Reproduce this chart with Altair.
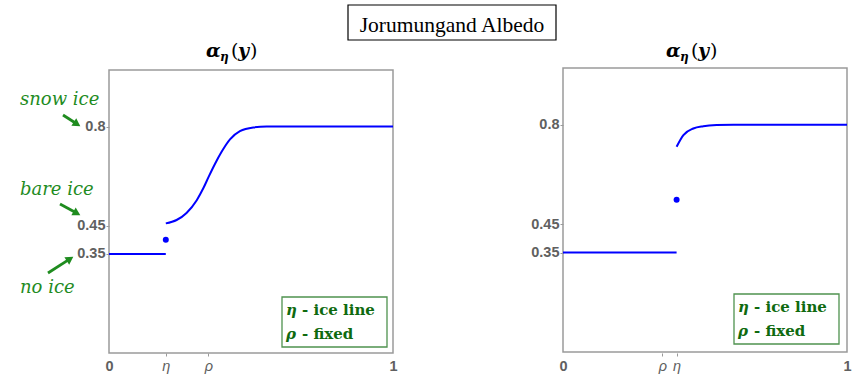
import math
import altair as alt
import pandas as pd

# ---------------- data ----------------
# Left panel: eta = 0.2, rho = 0.35
left_flat_x = [0.0, 0.2]
left_flat_y = [0.35, 0.35]
left_curve_x = [0.200, 0.238, 0.273, 0.309, 0.332, 0.352, 0.373, 0.397, 0.426, 0.461, 0.508, 0.555, 1.0]
left_curve_y = [0.458, 0.470, 0.495, 0.540, 0.582, 0.625, 0.668, 0.712, 0.755, 0.784, 0.797, 0.800, 0.800]
left_dot_x = [0.2]
left_dot_y = [0.40]
left_ticks = [0, 0.2, 0.35, 1]
left_tick_labels = ["0", "η", "ρ", "1"]

# Right panel: eta = 0.4, rho = 0.35
right_flat_x = [0.0, 0.4]
right_flat_y = [0.35, 0.35]
right_curve_x = [0.400, 0.424, 0.459, 0.494, 0.541, 0.600, 1.0]
right_curve_y = [0.723, 0.764, 0.787, 0.795, 0.799, 0.800, 0.800]
right_dot_x = [0.4]
right_dot_y = [0.536]
right_ticks = [0, 0.35, 0.4, 1]
right_tick_labels = ["0", "ρ", "η", "1"]

y_ticks = [0.35, 0.45, 0.8]
y_tick_labels = ["0.35", "0.45", "0.8"]

annotation_labels = ["snow ice", "bare ice", "no ice"]
legend_lines = [("η", "- ice line"), ("ρ", "- fixed")]
main_title = "Jorumungand Albedo"

# ---------------- styling ----------------
BLUE = "#0000ff"
GREEN = "#1f8c1f"
DKGREEN = "#0f6a0f"
BOXGREEN = "#4f924f"
GRAY = "#606060"
FRAME = "#9a9a9a"
SERIF = "Liberation Serif"
SERIF2 = "DejaVu Serif"
SANS = "Liberation Sans"

dummy = pd.DataFrame({"a": [0]})


def expr_from(values, labels):
    parts = [f"datum.value == {v} ? '{l}'" for v, l in zip(values, labels)]
    return " : ".join(parts) + " : ''"


def panel(flat_x, flat_y, curve_x, curve_y, dot_x, dot_y, ticks, labels, xrange, yrange, y_offset):
    lines = pd.DataFrame({
        "x": flat_x + curve_x,
        "y": flat_y + curve_y,
        "seg": ["flat"] * len(flat_x) + ["curve"] * len(curve_x),
    })
    dots = pd.DataFrame({"x": dot_x, "y": dot_y})
    frame_df = pd.DataFrame({"x0": [0.0], "x1": [1.0], "y0": [0.0], "y1": [1.0]})

    xs = alt.Scale(domain=[0, 1], range=xrange, nice=False, zero=False)
    ys = alt.Scale(domain=[0, 1], range=yrange, nice=False, zero=False)
    inner = "datum.value > 0 && datum.value < 1"
    x_axis = alt.Axis(
        values=ticks, labelExpr=expr_from(ticks, labels), orient="bottom", title=None,
        domain=False, grid=False, tickSize=3,
        tickColor={"condition": {"test": inner, "value": FRAME}, "value": "transparent"},
        labelPadding=3, labelFlush=False, labelOverlap=False, labelFont=SANS, labelFontSize=14.5,
        labelColor=GRAY,
        labelFontWeight={"condition": {"test": inner, "value": "normal"}, "value": "bold"},
        labelFontStyle={"condition": {"test": inner, "value": "italic"}, "value": "normal"},
    )
    y_axis = alt.Axis(
        values=y_ticks, labelExpr=expr_from(y_ticks, y_tick_labels), orient="left", offset=y_offset,
        title=None, domain=False, grid=False, tickSize=3, tickColor=FRAME, labelPadding=1,
        labelFont=SANS, labelFontSize=14.5, labelFontWeight="bold", labelColor=GRAY,
        labelOverlap=False, labelFlush=False,
    )

    frame = alt.Chart(frame_df).mark_rect(fillOpacity=0, stroke=FRAME, strokeWidth=1.5).encode(
        x=alt.X("x0:Q", scale=xs, axis=x_axis), x2="x1:Q",
        y=alt.Y("y0:Q", scale=ys, axis=y_axis), y2="y1:Q",
    )
    line = alt.Chart(lines).mark_line(color=BLUE, strokeWidth=2, interpolate="monotone").encode(
        x=alt.X("x:Q", scale=xs, axis=x_axis),
        y=alt.Y("y:Q", scale=ys, axis=y_axis),
        detail="seg:N",
    )
    dot = alt.Chart(dots).mark_circle(size=36, color=BLUE, opacity=1).encode(
        x=alt.X("x:Q", scale=xs, axis=x_axis),
        y=alt.Y("y:Q", scale=ys, axis=y_axis),
    )
    return alt.layer(frame, line, dot)


def txt(text, x, y, size, color, font=SERIF, style="normal", weight="normal", align="left"):
    return alt.Chart(dummy).mark_text(
        text=text, align=align, baseline="alphabetic", font=font, fontSize=size,
        fontStyle=style, fontWeight=weight, color=color,
    ).encode(x=alt.value(x), y=alt.value(y))


def box(x1, y1, x2, y2, stroke, width=1.2):
    return alt.Chart(dummy).mark_rect(fill="white", stroke=stroke, strokeWidth=width).encode(
        x=alt.value(x1), x2=alt.value(x2), y=alt.value(y1), y2=alt.value(y2)
    )


def arrow(x1, y1, x2, y2):
    dx, dy = x2 - x1, y2 - y1
    L = math.hypot(dx, dy)
    ux, uy = dx / L, dy / L
    ang = math.degrees(math.atan2(dy, dx)) % 360
    shaft = alt.Chart(dummy).mark_rule(color=GREEN, strokeWidth=2.8).encode(
        x=alt.value(x1), y=alt.value(y1), x2=alt.value(x2 - 5 * ux), y2=alt.value(y2 - 5 * uy)
    )
    head = alt.Chart(dummy).mark_point(
        shape="triangle-right", filled=True, size=80, angle=ang, color=GREEN, opacity=1
    ).encode(x=alt.value(x2 - 3.5 * ux), y=alt.value(y2 - 3.5 * uy))
    return [shaft, head]


left = panel(left_flat_x, left_flat_y, left_curve_x, left_curve_y, left_dot_x, left_dot_y,
             left_ticks, left_tick_labels, [0, 284], [285, 2], 0)
right = panel(right_flat_x, right_flat_y, right_curve_x, right_curve_y, right_dot_x, right_dot_y,
              right_ticks, right_tick_labels, [454, 738], [284, 0], -454)

layers = [left, right]

# main title box
layers.append(box(239, -63, 447, -28, "#000000", 1.2))
layers.append(txt(main_title, 343, -36, 21.5, "#000000", align="center"))

# panel titles  alpha_eta(y)
for x0 in (97, 557):
    layers.append(txt("α", x0, -11, 19, "#000000", font=SERIF2, style="italic", weight="bold"))
    layers.append(txt("η", x0 + 14, -7, 12, "#000000", font=SERIF2, style="italic", weight="bold"))
    layers.append(txt("(", x0 + 25, -11, 19, "#000000", font=SERIF2))
    layers.append(txt("y", x0 + 32, -11, 19, "#000000", font=SERIF2, style="italic", weight="bold"))
    layers.append(txt(")", x0 + 44, -11, 19, "#000000", font=SERIF2))

# legend boxes
for bx, by in ((173, 229), (625, 226)):
    layers.append(box(bx, by, bx + 105, by + 50, BOXGREEN, 1.3))
    for i, (g, rest) in enumerate(legend_lines):
        yb = by + 18 + 24 * i
        layers.append(txt(g, bx + 4, yb, 15, DKGREEN, font=SERIF2, style="italic", weight="bold"))
        layers.append(txt(rest, bx + 20, yb, 15, DKGREEN, font=SERIF2, weight="bold"))

# green annotations
for label, yb in zip(annotation_labels, (37, 127, 225)):
    layers.append(txt(label, -89, yb, 18, GREEN, font=SERIF2, style="italic"))
layers += arrow(-46, 47, -29, 58)
layers += arrow(-49, 136, -29, 147)
layers += arrow(-61, 205, -36, 189)

chart = alt.layer(*layers).resolve_scale(x="independent", y="independent").properties(
    width=738, height=285,
    autosize=alt.AutoSizeParams(type="none"),
    padding={"left": 109, "top": 68, "right": 10, "bottom": 22},
    background="white",
).configure_view(strokeWidth=0)

chart.save("out.html", embed_options={"renderer": "svg", "actions": False})
